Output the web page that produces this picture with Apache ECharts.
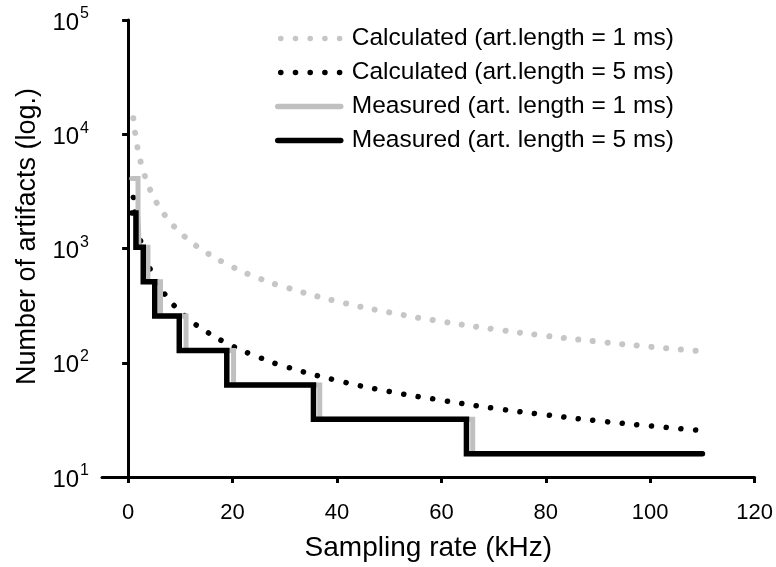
<!DOCTYPE html>
<html><head><meta charset="utf-8">
<script src="https://cdn.jsdelivr.net/npm/echarts@6/dist/echarts.min.js"></script>
<style>html,body{margin:0;padding:0;background:#fff}#c{width:776px;height:567px}</style>
</head><body><div id="c"></div>
<script>
// Sampling rates (kHz) at which the calculated curves are read
const calcRates = [1, 1.5, 2, 2.5, 3, 4, 5, 6, 8, 10, 12, 15, 20, 25, 30, 40, 50, 60, 70, 80, 90, 100, 110];
// Calculated number of artifacts, art. length = 1 ms
const calc1ms = [13800, 9200, 6900, 5500, 4600, 3450, 2760, 2300, 1720, 1380, 1150, 920, 690, 550, 460, 345, 276, 230, 197, 172, 153, 138, 126];
// Calculated number of artifacts, art. length = 5 ms
const calc5ms = [2800, 1870, 1400, 1120, 935, 700, 560, 467, 350, 280, 233, 187, 140, 112, 93, 70, 56, 47, 40, 35, 31, 28, 25.5];
// Measured (art. length = 1 ms): rate where each level starts, and level
const meas1Rates = [0.7, 1.9, 2.1, 3.8, 6.2, 11.1, 20.2, 36.7, 66.0, 110];
const meas1Values = [4096, 2048, 1024, 512, 256, 128, 64, 32, 16, 16];
// Measured (art. length = 5 ms)
const meas5Rates = [0.7, 1.5, 2.9, 5.1, 9.8, 18.9, 35.5, 64.8, 110];
const meas5Values = [2048, 1024, 512, 256, 128, 64, 32, 16, 16];
// Axis ticks
const xTicks = [0, 20, 40, 60, 80, 100, 120];
const seriesNames = [
  'Calculated (art.length = 1 ms)',
  'Calculated (art.length = 5 ms)',
  'Measured (art. length = 1 ms)',
  'Measured (art. length = 5 ms)'
];

const FONT = 'Liberation Sans, Arial, sans-serif';
const zip = (xs, ys) => xs.map((x, i) => [x, ys[i]]);
const DOT = [0.1, 14.6];
const HIDE = {opacity: 0, color: 'rgba(0,0,0,0)', borderWidth: 0};

const chart = echarts.init(document.getElementById('c'), null, {renderer: 'canvas'});
chart.setOption({
  animation: false,
  backgroundColor: '#fff',
  grid: {left: 102, right: 20, top: 20, bottom: 89, containLabel: false},
  legend: {
    orient: 'vertical', left: 275, top: 26, padding: 0,
    itemWidth: 63, itemHeight: 24, itemGap: 9,
    itemStyle: HIDE,
    textStyle: {fontSize: 24.5, color: '#000', fontFamily: FONT, lineHeight: 24, padding: [0, 0, 0, 6]},
    data: [
      {name: seriesNames[0], itemStyle: HIDE, lineStyle: {width: 5.5, type: DOT, dashOffset: -3, cap: 'round', color: '#c6c6c6'}},
      {name: seriesNames[1], itemStyle: HIDE, lineStyle: {width: 5.5, type: DOT, dashOffset: -3, cap: 'round', color: '#000'}},
      {name: seriesNames[2], itemStyle: HIDE, lineStyle: {width: 5.5, type: 'solid', cap: 'round', color: '#c0c0c0'}},
      {name: seriesNames[3], itemStyle: HIDE, lineStyle: {width: 5.5, type: 'solid', cap: 'round', color: '#000'}}
    ]
  },
  xAxis: {
    type: 'value', min: -5, max: 120,
    axisLine: {show: true, onZero: false, lineStyle: {color: '#000', width: 3}},
    axisTick: {show: true, length: 6, lineStyle: {color: '#000', width: 3}, customValues: xTicks},
    axisLabel: {color: '#000', fontSize: 22, fontFamily: FONT, margin: 25, customValues: xTicks},
    splitLine: {show: false},
    name: 'Sampling rate (kHz)', nameLocation: 'middle', nameGap: 57,
    nameTextStyle: {fontSize: 28, color: '#000', fontFamily: FONT}
  },
  yAxis: {
    type: 'log', logBase: 10, min: 10, max: 100000,
    axisLine: {show: true, lineStyle: {color: '#000', width: 3}},
    axisTick: {show: true, length: 6, lineStyle: {color: '#000', width: 3}},
    minorTick: {show: false},
    splitLine: {show: false},
    axisLabel: {
      color: '#000', fontFamily: FONT, margin: 13,
      formatter: v => '{m|10}{s|' + Math.round(Math.log10(v)) + '}',
      rich: {
        m: {fontSize: 24, fontFamily: FONT, color: '#000', verticalAlign: 'bottom', padding: [6, 0, 0, 0]},
        s: {fontSize: 16, fontFamily: FONT, color: '#000', verticalAlign: 'top', padding: [1, 0, 0, 1]}
      }
    },
    name: 'Number of artifacts (log.)', nameLocation: 'middle', nameGap: 58,
    nameTextStyle: {fontSize: 27, color: '#000', fontFamily: FONT, padding: [0, 0, 0, 24]}
  },
  series: [
    {name: seriesNames[0], type: 'line', data: zip(calcRates, calc1ms), symbol: 'none', smooth: true,
     lineStyle: {color: '#c6c6c6', width: 6, type: DOT, cap: 'round'}, itemStyle: {color: '#c6c6c6'}},
    {name: seriesNames[1], type: 'line', data: zip(calcRates, calc5ms), symbol: 'none', smooth: true,
     lineStyle: {color: '#000', width: 5.5, type: DOT, cap: 'round'}, itemStyle: {color: '#000'}},
    {name: seriesNames[2], type: 'line', step: 'end', data: zip(meas1Rates, meas1Values), symbol: 'none',
     lineStyle: {color: '#c0c0c0', width: 5, cap: 'round', join: 'miter'}, itemStyle: {color: '#c0c0c0'}},
    {name: seriesNames[3], type: 'line', step: 'end', data: zip(meas5Rates, meas5Values), symbol: 'none',
     lineStyle: {color: '#000', width: 5.5, cap: 'round', join: 'miter'}, itemStyle: {color: '#000'}}
  ]
});
</script></body></html>
